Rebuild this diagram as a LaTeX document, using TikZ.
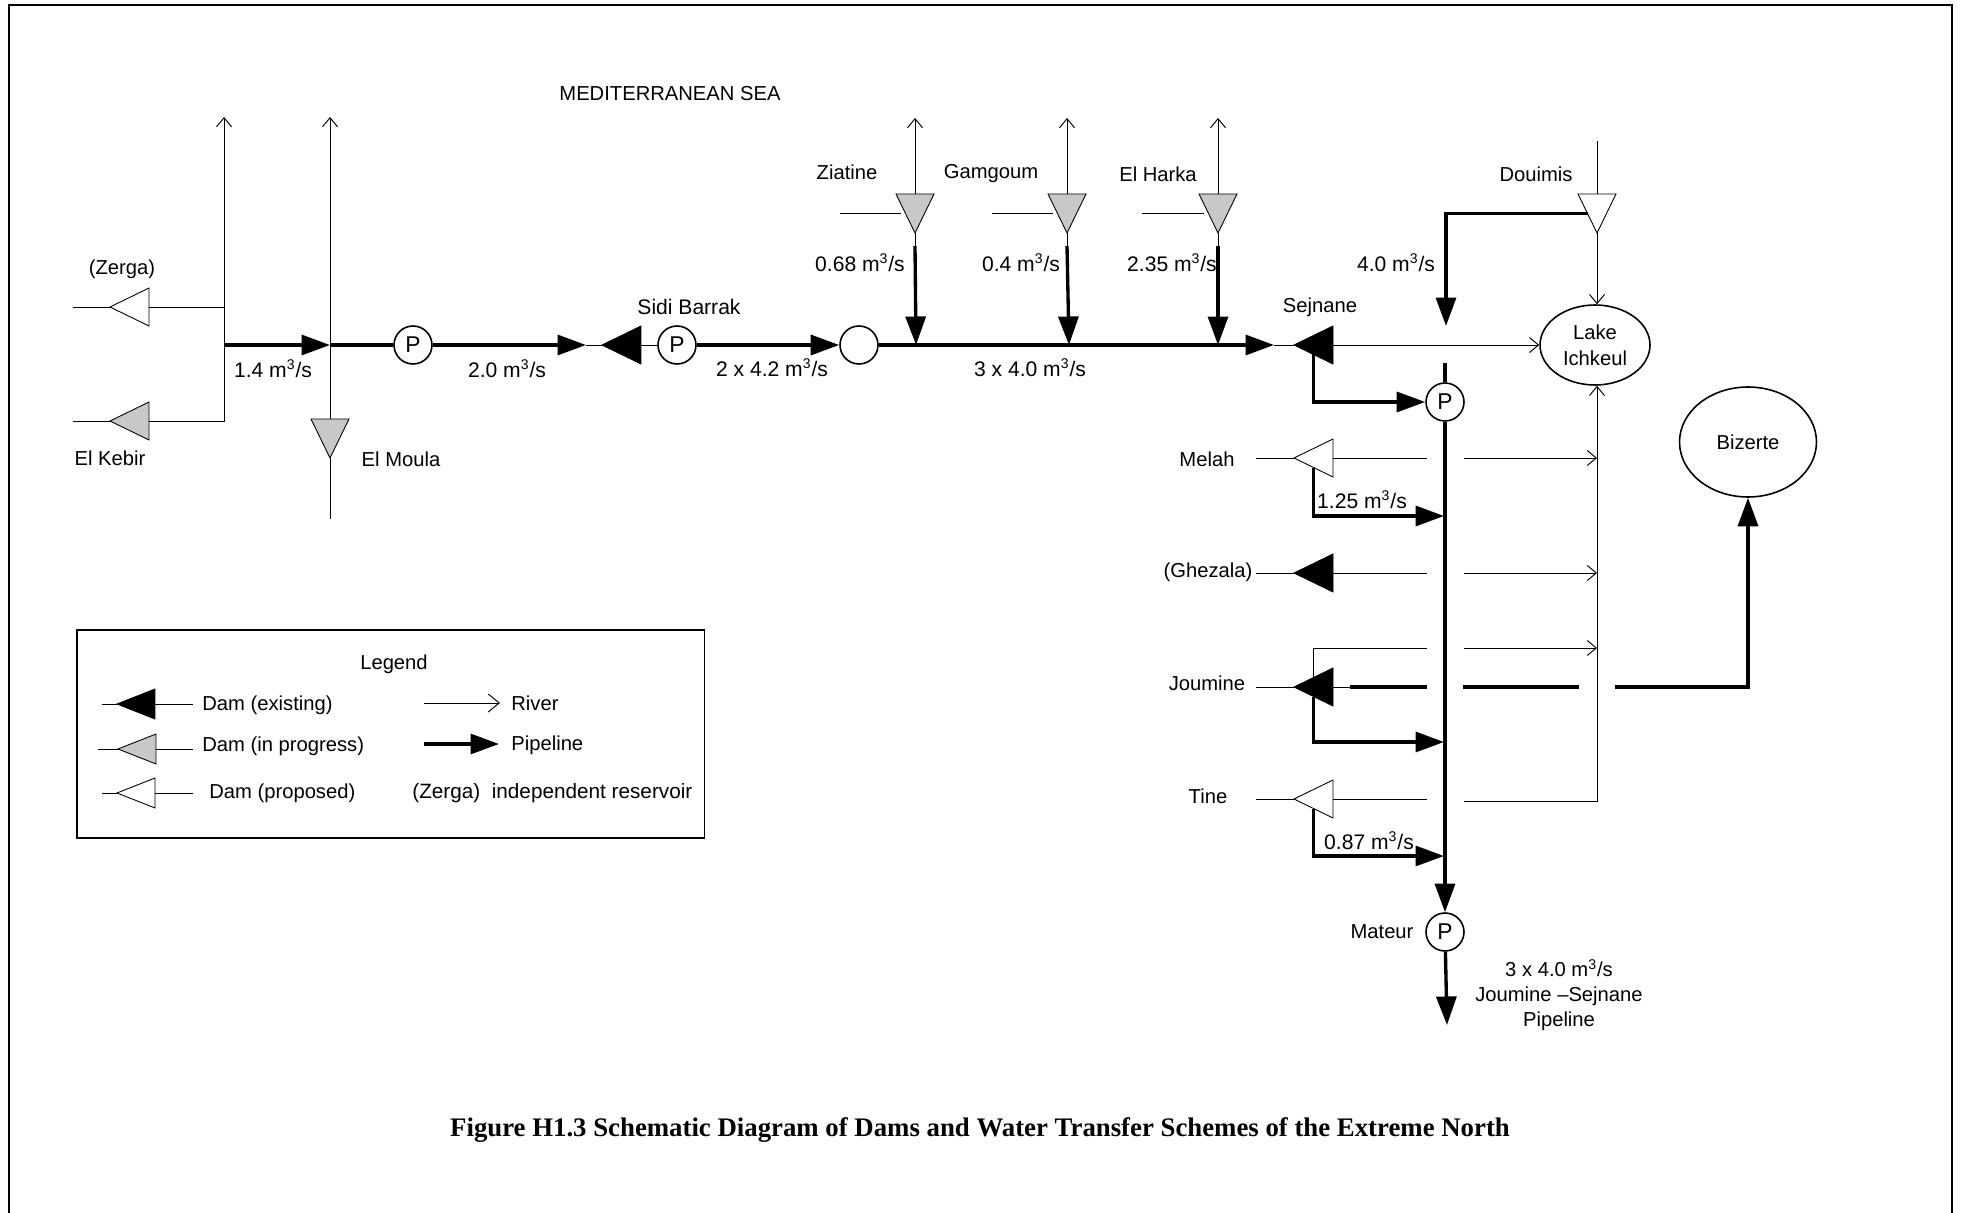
\documentclass[tikz,border=0pt]{standalone}
\usepackage{xcolor}
\usepackage{fontspec}
\setmainfont{Liberation Sans}
\newfontfamily\titlefont{Liberation Serif}
\usetikzlibrary{shapes.geometric, arrows.meta, positioning, calc}
\definecolor{mydark}{RGB}{0,0,0}
\definecolor{damgrey}{RGB}{200,200,200}
\newcommand{\cum}{m\textsuperscript{3}/s}
\tikzset{
  dam/.style={isosceles triangle, isosceles triangle stretches, draw=mydark,
    minimum height=0.78cm, minimum width=0.76cm, inner sep=0pt, outer sep=0pt, line width=0.5pt},
  damexist/.style={dam, fill=mydark},
  damwork/.style={dam, fill=damgrey},
  damplan/.style={dam, fill=white},
  legdam/.style={minimum height=0.76cm, minimum width=0.6cm},
  facingleft/.style={shape border rotate=180},
  facingdown/.style={shape border rotate=270},
  pump/.style={circle, draw=mydark, fill=white, minimum size=0.76cm,
    inner sep=0pt, line width=0.9pt, font=\fontsize{13}{15}\selectfont},
  lake/.style={ellipse, draw=mydark, fill=white, align=center, inner sep=0pt,
    line width=0.9pt, font=\fontsize{11.5}{15}\selectfont},
  lbl/.style={inner sep=0pt, align=center, font=\fontsize{11.5}{14.2}\selectfont},
  flowlbl/.style={lbl, font=\fontsize{12}{14.2}\selectfont},
  leftlbl/.style={lbl, anchor=west},
  river/.style={-{Straight Barb[length=1.8mm,width=3mm]}, line width=0.55pt, color=mydark},
  thinline/.style={line width=0.55pt, color=mydark},
  pipe/.style={-{Triangle[length=5.7mm,width=4mm]}, line width=1.9pt, color=mydark},
  pipeline/.style={line width=1.9pt, color=mydark}
}
\begin{document}
\begin{tikzpicture}[x=0.02cm, y=-0.02cm]
  \useasboundingbox (0,0) rectangle (1961,1213);
  \coordinate (framea) at (9,1213);
  \coordinate (frameb) at (9,5);
  \coordinate (framec) at (1952,5);
  \coordinate (framed) at (1952,1213);
  \draw[line width=0.9pt] (framea) -- (frameb) -- (framec) -- (framed);

  % western rivers
  \node[damplan, facingleft, anchor=apex] (zerga) at (110,307) {};
  \node[damwork, facingleft, anchor=apex] (kebir) at (110,421) {};
  \node[damwork, facingdown, anchor=apex] (moula) at (330,458) {};
  \coordinate (zergaout) at (73,307);
  \coordinate (kebirout) at (73,421);
  \coordinate (riverw) at (224,117);
  \coordinate (rivern) at (330,117);
  \coordinate (moulaout) at (330,519);
  \coordinate (kebirjoin) at (224,421);
  \draw[thinline] (zergaout) -- (zerga.apex);
  \draw[thinline] (kebirout) -- (kebir.apex);
  \draw[thinline] (zerga.lower side) -- (224,307);
  \draw[river] (kebir.lower side) -- (kebirjoin) -- (riverw);
  \draw[river] (moula.lower side) -- (rivern);
  \draw[thinline] (moula.apex) -- (moulaout);

  % main line to Sejnane
  \coordinate (startw) at (224,345);
  \coordinate (moulain) at (330,345);
  \node[pump] (pumpa) at (413,345) {P};
  \node[damexist, facingleft, anchor=apex] (sidi) at (602,345) {};
  \node[pump] (pumpb) at (677,345) {P};
  \node[pump] (basin) at (859,345) {};
  \node[damexist, facingleft, anchor=apex] (sejnane) at (1294,345) {};
  \coordinate (sidiin) at (586,345);
  \coordinate (sejnanein) at (1274,345);
  \draw[pipe] (startw) -- (moulain);
  \draw[pipeline] (moulain) -- (pumpa);
  \draw[pipe] (pumpa) -- (sidiin);
  \draw[thinline] (sidiin) -- (sidi.apex);
  \draw[thinline] (sidi.lower side) -- (pumpb);
  \draw[pipe] (pumpb) -- (basin);
  \draw[pipe] (basin) -- (sejnanein);
  \draw[thinline] (sejnanein) -- (sejnane.apex);

  % northern dams
  \foreach \name/\xpos/\xend/\sidex in {ziatine/915/916/840, gamgoum/1067/1069/992, harka/1218/1218/1142}{
    \node[damwork, facingdown, anchor=apex] (\name) at (\xpos,233) {};
    \coordinate (\name top) at (\xpos,118);
    \coordinate (\name side) at (\sidex,213);
    \coordinate (\name pipe) at (\xpos,246);
    \coordinate (\name join) at (\xend,345);
    \draw[river] (\name.lower side) -- (\name top);
    \draw[thinline, shorten >=1mm] (\name side) -- (\name side -| \name.right side);
    \draw[thinline] (\name.apex) -- (\name pipe);
    \draw[pipe] (\name pipe) -- (\name join);
  }

  % lakes, Douimis
  \node[lake, minimum width=2.2cm, minimum height=1.6cm] (ichkeul) at (1595,345) {Lake\\Ichkeul};
  \node[lake, minimum width=2.74cm, minimum height=2.2cm] (bizerte) at (1748,442) {Bizerte};
  \node[damplan, facingdown, anchor=apex] (douimis) at (1597,233) {};
  \coordinate (douimistop) at (1597,141);
  \coordinate (douimisin) at (1446,326);
  \draw[thinline] (douimistop) -- (douimis.lower side);
  \draw[river] (douimis.apex) -- (douimis.apex |- ichkeul.north);
  \draw[pipe] (douimis.right side) -| (douimisin);
  \draw[river] (sejnane.lower side) -- (ichkeul);

  % main pipeline north to south
  \node[pump] (pumpc) at (1445,402) {P};
  \node[pump] (mateur) at (1445,932) {P};
  \coordinate (maintop) at (1445,363);
  \coordinate (mateurout) at (1447,1025);
  \draw[pipeline] (maintop) -- (pumpc);
  \draw[pipe] (pumpc) -- (mateur);
  \draw[pipe] (mateur) -- (mateurout);
  \draw[pipe] (sejnane.left side) |- (pumpc);

  % western dams on the main pipeline
  \node[damplan, facingleft, anchor=apex] (melah) at (1294,458) {};
  \node[damexist, facingleft, anchor=apex] (ghezala) at (1294,573) {};
  \node[damexist, facingleft, anchor=apex] (joumine) at (1294,687) {};
  \node[damplan, facingleft, anchor=apex] (tine) at (1294,799) {};
  \foreach \name/\ypos in {melah/458, ghezala/573, joumine/687, tine/799}{
    \coordinate (\name out) at (1256,\ypos);
    \draw[thinline] (\name out) -- (\name.apex);
  }
  \foreach \name/\ypos in {melah/458, ghezala/573, tine/799}{
    \coordinate (\name cut) at (1427,\ypos);
    \draw[thinline] (\name.lower side) -- (\name cut);
  }
  \foreach \name/\ypos in {melah/516, joumine/742, tine/856}{
    \coordinate (\name in) at (1444,\ypos);
    \draw[pipe] (\name.left side) |- (\name in);
  }

  % rivers east of the main pipeline
  \coordinate (outa) at (1464,458);
  \coordinate (tipa) at (1597,458);
  \coordinate (outb) at (1464,573);
  \coordinate (tipb) at (1597,573);
  \coordinate (joumcut) at (1427,648);
  \coordinate (outc) at (1464,648);
  \coordinate (tipc) at (1597,648);
  \coordinate (outd) at (1464,801);
  \coordinate (bend) at (1597,801);
  \draw[river] (outa) -- (tipa);
  \draw[river] (outb) -- (tipb);
  \draw[thinline] (joumine.right side) |- (joumcut);
  \draw[river] (outc) -- (tipc);
  \draw[river] (outd) -- (bend) -- (bend |- ichkeul.south);

  % Joumine to Bizerte
  \coordinate (bizea) at (1350,687);
  \coordinate (bizeb) at (1427,687);
  \coordinate (bizec) at (1463,687);
  \coordinate (bized) at (1579,687);
  \coordinate (bizee) at (1615,687);
  \draw[thinline] (joumine.lower side) -- (bizea);
  \draw[pipeline] (bizea) -- (bizeb);
  \draw[pipeline] (bizec) -- (bized);
  \draw[pipe] (bizee) -| (bizerte);

  % labels
  \node[lbl] (sea) at (670,94) {MEDITERRANEAN SEA};
  \node[lbl] (lblzerga) at (122,269) {(Zerga)};
  \node[lbl] (lblkebir) at (110,458) {El Kebir};
  \node[lbl] (lblmoula) at (401,459) {El Moula};
  \node[flowlbl] (flowa) at (273,369) {1.4 \cum};
  \node[flowlbl] (flowb) at (507,369) {2.0 \cum};
  \node[flowlbl] (lblsidi) at (689,307) {Sidi Barrak};
  \node[flowlbl] (flowc) at (772,368) {2 x 4.2 \cum};
  \node[lbl] (lblziatine) at (847,172) {Ziatine};
  \node[lbl] (lblgamgoum) at (991,174) {Gamgoum};
  \node[lbl] (lblharka) at (1158,174) {El Harka};
  \node[lbl] (lbldouimis) at (1536,174) {Douimis};
  \node[flowlbl] (flowd) at (860,263) {0.68 \cum};
  \node[flowlbl] (flowe) at (1021,263) {0.4 \cum};
  \node[flowlbl] (flowf) at (1172,263) {2.35 \cum};
  \node[flowlbl] (flowg) at (1396,263) {4.0 \cum};
  \node[lbl] (lblsejnane) at (1320,307) {Sejnane};
  \node[flowlbl] (flowh) at (1030,368) {3 x 4.0 \cum};
  \node[lbl] (lblmelah) at (1207,459) {Melah};
  \node[flowlbl] (flowi) at (1362,500) {1.25 \cum};
  \node[lbl] (lblghezala) at (1208,572) {(Ghezala)};
  \node[lbl] (lbljoumine) at (1207,683) {Joumine};
  \node[lbl] (lbltine) at (1208,796) {Tine};
  \node[flowlbl] (flowj) at (1369,841) {0.87 \cum};
  \node[lbl] (lblmateur) at (1382,932) {Mateur};
  \node[lbl, anchor=north] (lblpipe) at (1559,959) {3 x 4.0 \cum\\Joumine --Sejnane\\Pipeline};

  % legend
  \node[draw=mydark, line width=0.9pt, minimum width=12.56cm, minimum height=4.16cm, anchor=north west] (legend) at (76,629) {};
  \node[lbl] (legtitle) at (394,664) {Legend};
  \node[damexist, facingleft, legdam, anchor=apex] (legexist) at (117,704) {};
  \node[damwork, facingleft, legdam, anchor=apex] (legwork) at (118,749) {};
  \node[damplan, facingleft, legdam, anchor=apex] (legplan) at (117,793) {};
  \foreach \name/\ypos/\xout in {legexist/704/102, legwork/749/98, legplan/793/102}{
    \coordinate (\name a) at (\xout,\ypos);
    \coordinate (\name b) at (193,\ypos);
    \draw[thinline] (\name a) -- (\name.apex);
    \draw[thinline] (\name.lower side) -- (\name b);
  }
  \node[leftlbl] (txtexist) at (202,705) {Dam (existing)};
  \node[leftlbl] (txtwork) at (202,746) {Dam (in progress)};
  \node[leftlbl] (txtplan) at (209,793) {Dam (proposed)};
  \node[leftlbl] (txtriver) at (511,703) {River};
  \node[leftlbl] (txtpipe) at (511,745) {Pipeline};
  \node[leftlbl, font=\fontsize{11.8}{14.2}\selectfont] (txtindep) at (412,793) {(Zerga)\ \ independent reservoir};
  \coordinate (legrivera) at (424,703);
  \coordinate (legriverb) at (500,703);
  \coordinate (legpipea) at (424,744);
  \coordinate (legpipeb) at (499,744);
  \draw[river, -{Straight Barb[length=2.2mm,width=3.6mm]}] (legrivera) -- (legriverb);
  \draw[pipe] (legpipea) -- (legpipeb);

  \node[font=\titlefont\bfseries\fontsize{15.25}{18}\selectfont, inner sep=0pt] (figtitle) at (980,1130)
    {Figure H1.3 Schematic Diagram of Dams and Water Transfer Schemes of the Extreme North};
\end{tikzpicture}
\end{document}
